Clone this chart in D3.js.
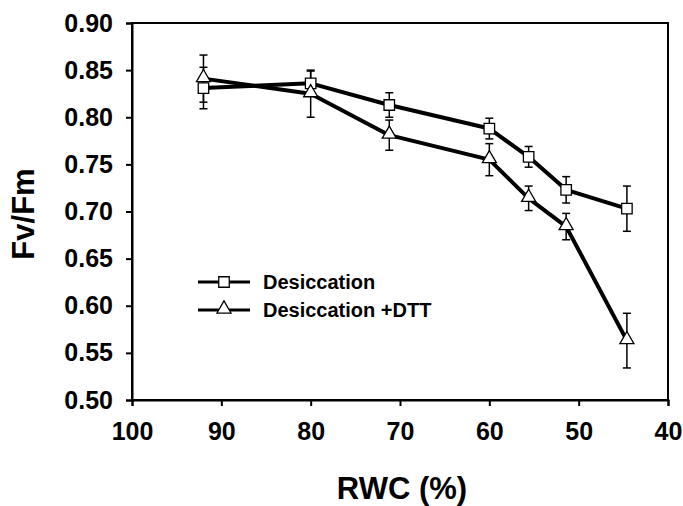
<!DOCTYPE html>
<html><head><meta charset="utf-8">
<script src="https://cdn.jsdelivr.net/npm/d3@7"></script>
<style>body{margin:0;background:#fff}svg{display:block}text{font-family:"Liberation Sans",Arial,sans-serif;font-weight:bold;fill:#000}</style>
</head><body><svg id="c" width="683" height="506"></svg>
<script>
const rwc = [92, 80, 71.2, 60, 55.6, 51.4, 44.6];
const desic = [0.831, 0.836, 0.813, 0.788, 0.758, 0.723, 0.703];
const desicErr = [0.022, 0.013, 0.013, 0.011, 0.011, 0.014, 0.024];
const dtt = [0.841, 0.825, 0.781, 0.755, 0.714, 0.684, 0.563];
const dttErr = [0.025, 0.025, 0.016, 0.017, 0.013, 0.014, 0.029];
const xTicks = [100, 90, 80, 70, 60, 50, 40];
const yTicks = [0.50, 0.55, 0.60, 0.65, 0.70, 0.75, 0.80, 0.85, 0.90];
const seriesNames = ["Desiccation", "Desiccation +DTT"];

const svg = d3.select("#c");
const L = 132, R = 668, T = 23, B = 400;
const x = d3.scaleLinear().domain([100, 40]).range([L, R]);
const y = d3.scaleLinear().domain([0.50, 0.90]).range([B, T]);

// frame
svg.append("rect").attr("x", L).attr("y", T).attr("width", R - L).attr("height", B - T)
  .attr("fill", "none").attr("stroke", "#000").attr("stroke-width", 2);

const yAxis = svg.append("g").attr("transform", `translate(${L},0)`)
  .call(d3.axisLeft(y).tickValues(yTicks).tickFormat(d3.format(".2f")).tickSize(6).tickPadding(13));
const xAxis = svg.append("g").attr("transform", `translate(0,${B})`)
  .call(d3.axisBottom(x).tickValues(xTicks).tickFormat(d3.format("d")).tickSize(6).tickPadding(16));
[yAxis, xAxis].forEach(g => {
  g.select(".domain").attr("stroke", "#000").attr("stroke-width", 2);
  g.selectAll(".tick line").attr("stroke", "#000").attr("stroke-width", 2);
  g.selectAll("text").style("font-size", "25px").style("font-weight", "bold")
    .style("font-family", "Liberation Sans, Arial, sans-serif").attr("fill", "#000");
});

svg.append("text").attr("transform", `translate(34,214) rotate(-90)`).attr("text-anchor", "middle")
  .style("font-size", "31px").text("Fv/Fm");
svg.append("text").attr("x", 402).attr("y", 499).attr("text-anchor", "middle")
  .style("font-size", "31px").text("RWC (%)");

const line = d3.line().x(d => x(d[0])).y(d => y(d[1]));
const series = [
  {vals: desic, err: desicErr, shape: "square"},
  {vals: dtt, err: dttErr, shape: "triangle"}
];
const sq = d3.symbol().type(d3.symbolSquare).size(110);
const tri = d3.symbol().type(d3.symbolTriangle).size(85);

// error bars
series.forEach(s => {
  const g = svg.append("g").attr("stroke", "#000").attr("stroke-width", 1.5);
  rwc.forEach((r, i) => {
    const cx = x(r), y1 = y(s.vals[i] + s.err[i]), y2 = y(s.vals[i] - s.err[i]);
    g.append("line").attr("x1", cx).attr("x2", cx).attr("y1", y1).attr("y2", y2);
    g.append("line").attr("x1", cx - 4).attr("x2", cx + 4).attr("y1", y1).attr("y2", y1);
    g.append("line").attr("x1", cx - 4).attr("x2", cx + 4).attr("y1", y2).attr("y2", y2);
  });
});
// lines
series.forEach(s => {
  svg.append("path").datum(rwc.map((r, i) => [r, s.vals[i]])).attr("d", line)
    .attr("fill", "none").attr("stroke", "#000").attr("stroke-width", 4).attr("stroke-linejoin", "round");
});
// markers
series.forEach(s => {
  rwc.forEach((r, i) => {
    svg.append("path").attr("d", s.shape === "square" ? sq() : tri())
      .attr("transform", `translate(${x(r)},${y(s.vals[i]) + (s.shape === "square" ? 0 : -1)})`)
      .attr("fill", "#fff").attr("stroke", "#000").attr("stroke-width", 1.3);
  });
});

// legend
series.forEach((s, i) => {
  const ly = 282 + i * 28;
  svg.append("line").attr("x1", 198).attr("x2", 250).attr("y1", ly).attr("y2", ly)
    .attr("stroke", "#000").attr("stroke-width", 3);
  svg.append("path").attr("d", s.shape === "square" ? sq() : tri())
    .attr("transform", `translate(224,${ly + (s.shape === "square" ? 0 : -1)})`)
    .attr("fill", "#fff").attr("stroke", "#000").attr("stroke-width", 1.3);
  svg.append("text").attr("x", 263).attr("y", ly + 7).style("font-size", "20px").text(seriesNames[i]);
});
</script></body></html>
